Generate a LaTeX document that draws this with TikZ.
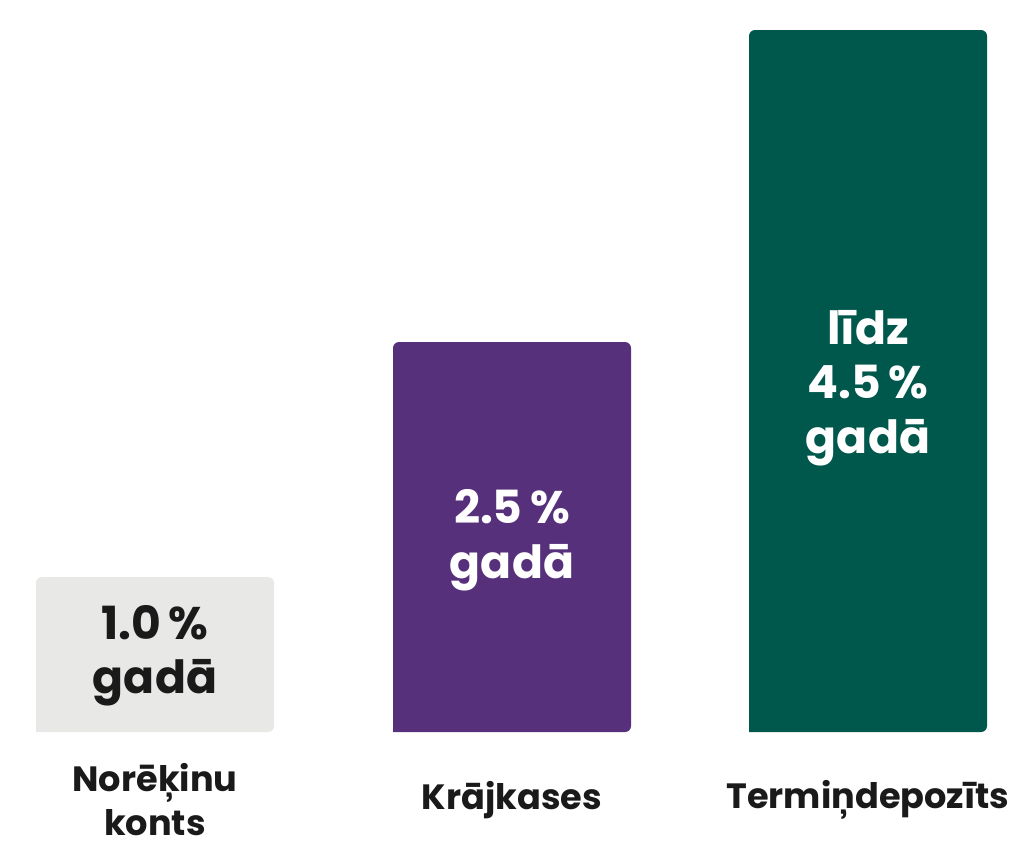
\documentclass[tikz,border=0pt]{standalone}
\usepackage{fontspec}
\setmainfont{Poppins}
\definecolor{gbar}{HTML}{E8E8E6}
\definecolor{pbar}{HTML}{56307A}
\definecolor{tbar}{HTML}{00574B}
\definecolor{ink}{HTML}{1A1A1A}
\begin{document}
\begin{tikzpicture}[x=0.02cm,y=-0.02cm,
  bar/.style={rounded corners=0.12cm},
  val/.style={font=\fontsize{26}{31}\selectfont\bfseries, align=center},
  lab/.style={font=\fontsize{20}{25}\selectfont\bfseries, align=center, text=ink}]
\useasboundingbox (0,0) rectangle (1024,850);
\fill[gbar,bar] (36,732) -- (36,577) -- (274,577) -- (274,732) [sharp corners] -- cycle;
\fill[pbar,bar] (393,732) -- (393,342) -- (631,342) -- (631,732) [sharp corners] -- cycle;
\fill[tbar,bar] (749,732) -- (749,30) -- (987,30) -- (987,732) [sharp corners] -- cycle;
\node[val,text=ink] (v1) at (155,656) {1.0\,\%\\gadā};
\node[val,text=white] (v2) at (512,540) {2.5\,\%\\gadā};
\node[val,text=white] (v3) at (868,388) {līdz\\4.5\,\%\\gadā};
\node[lab] (l1) at (155,800) {Norēķinu\\konts};
\node[lab] (l2) at (512,800) {Krājkases};
\node[lab] (l3) at (868,800) {Termiņdepozīts};
\end{tikzpicture}
\end{document}
